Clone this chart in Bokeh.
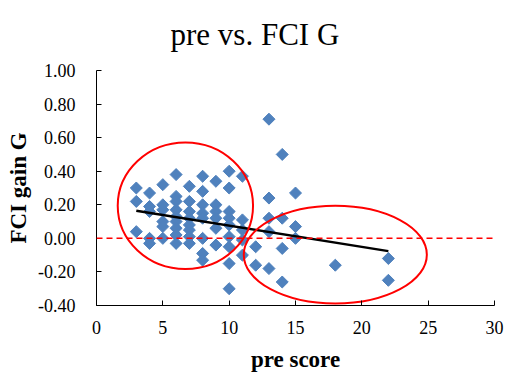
from bokeh.plotting import figure
from bokeh.models import Span, FixedTicker, NumeralTickFormatter, Range1d, ColumnDataSource
from bokeh.embed import file_html
from bokeh.resources import INLINE
import math

# ---- data ----
pre_score = [3, 3, 3,
             4, 4, 4, 4, 4,
             5, 5, 5, 5, 5, 5,
             6, 6, 6, 6, 6, 6, 6, 6, 6,
             7, 7, 7, 7, 7, 7, 7, 7,
             8, 8, 8, 8, 8, 8, 8, 8,
             9, 9, 9, 9, 9, 9,
             10, 10, 10, 10, 10, 10, 10, 10, 10,
             11, 11, 11, 11, 11,
             12, 12,
             13, 13, 13, 13, 13,
             14, 14, 14, 14,
             15, 15, 15,
             18,
             22, 22]
fci_gain = [0.30, 0.22, 0.04,
            0.27, 0.19, 0.16, 0.00, -0.03,
            0.32, 0.20, 0.17, 0.10, 0.07, 0.00,
            0.38, 0.25, 0.22, 0.17, 0.13, 0.10, 0.06, 0.02, -0.03,
            0.31, 0.22, 0.16, 0.12, 0.08, 0.05, 0.01, -0.03,
            0.37, 0.28, 0.20, 0.15, 0.12, 0.00, -0.09, -0.13,
            0.34, 0.20, 0.16, 0.12, 0.06, -0.04,
            0.40, 0.30, 0.16, 0.12, 0.08, 0.01, -0.05, -0.15, -0.30,
            0.37, 0.11, 0.05, -0.01, -0.10,
            -0.05, -0.16,
            0.71, 0.24, 0.12, 0.04, -0.18,
            0.50, 0.12, -0.06, -0.26,
            0.27, 0.07, 0.00,
            -0.16,
            -0.12, -0.25]

trend_x = [3, 22]
trend_y = [0.165, -0.076]

ellipse_x = [6.7, 18.0]
ellipse_y = [0.194, -0.097]
ellipse_w = [10.2, 13.8]
ellipse_h = [0.753, 0.582]

x_ticks = [0, 5, 10, 15, 20, 25, 30]
y_ticks = [-0.4, -0.2, 0.0, 0.2, 0.4, 0.6, 0.8, 1.0]

FONT = "Liberation Serif"

p = figure(width=506, height=374, output_backend="svg", toolbar_location=None,
           x_range=Range1d(0, 30), y_range=Range1d(-0.4, 1.0),
           min_border_left=96, min_border_right=12, min_border_top=68, min_border_bottom=68)

p.title.text = "pre vs. FCI G"
p.title.align = "left"
p.title.offset = 74
p.title.vertical_align = "top"
p.title.standoff = 33
p.title.text_font = FONT
p.title.text_font_size = "31px"
p.title.text_font_style = "normal"
p.title.text_color = "black"

p.grid.visible = False
p.outline_line_color = None
p.background_fill_color = "white"
p.border_fill_color = "white"

src = ColumnDataSource(dict(x=pre_score, y=fci_gain))
p.scatter("x", "y", source=src, marker="square", size=8.5, angle=math.pi / 4,
          fill_color="#4F81BD", line_color="#4F81BD")

p.line(trend_x, trend_y, line_color="black", line_width=2.5)

p.ellipse(x=ellipse_x, y=ellipse_y, width=ellipse_w, height=ellipse_h,
          fill_color=None, line_color="#FF0000", line_width=2)

p.add_layout(Span(location=0, dimension="width", line_color="#FF0000",
                  line_dash="6 4", line_width=1.5))

for ax in (p.xaxis[0], p.yaxis[0]):
    ax.axis_line_color = "black"
    ax.axis_line_width = 1
    ax.major_tick_line_color = "black"
    ax.major_tick_in = 5
    ax.major_tick_out = 0
    ax.minor_tick_line_color = None
    ax.major_label_text_font = FONT
    ax.major_label_text_font_size = "18px"
    ax.major_label_text_font_style = "normal"
    ax.major_label_text_color = "black"
    ax.axis_label_text_font = FONT
    ax.axis_label_text_font_size = "23px"
    ax.axis_label_text_font_style = "bold"
    ax.axis_label_text_color = "black"

p.xaxis.ticker = FixedTicker(ticks=x_ticks)
p.yaxis.ticker = FixedTicker(ticks=y_ticks)
p.yaxis.formatter = NumeralTickFormatter(format="0.00")
p.xaxis.axis_label = "pre score"
p.yaxis.axis_label = "FCI gain G"
p.xaxis.major_label_standoff = 15
p.yaxis.major_label_standoff = 21
p.xaxis.axis_label_standoff = 10
p.yaxis.axis_label_standoff = 4

open("out.html", "w").write(file_html(p, INLINE))
